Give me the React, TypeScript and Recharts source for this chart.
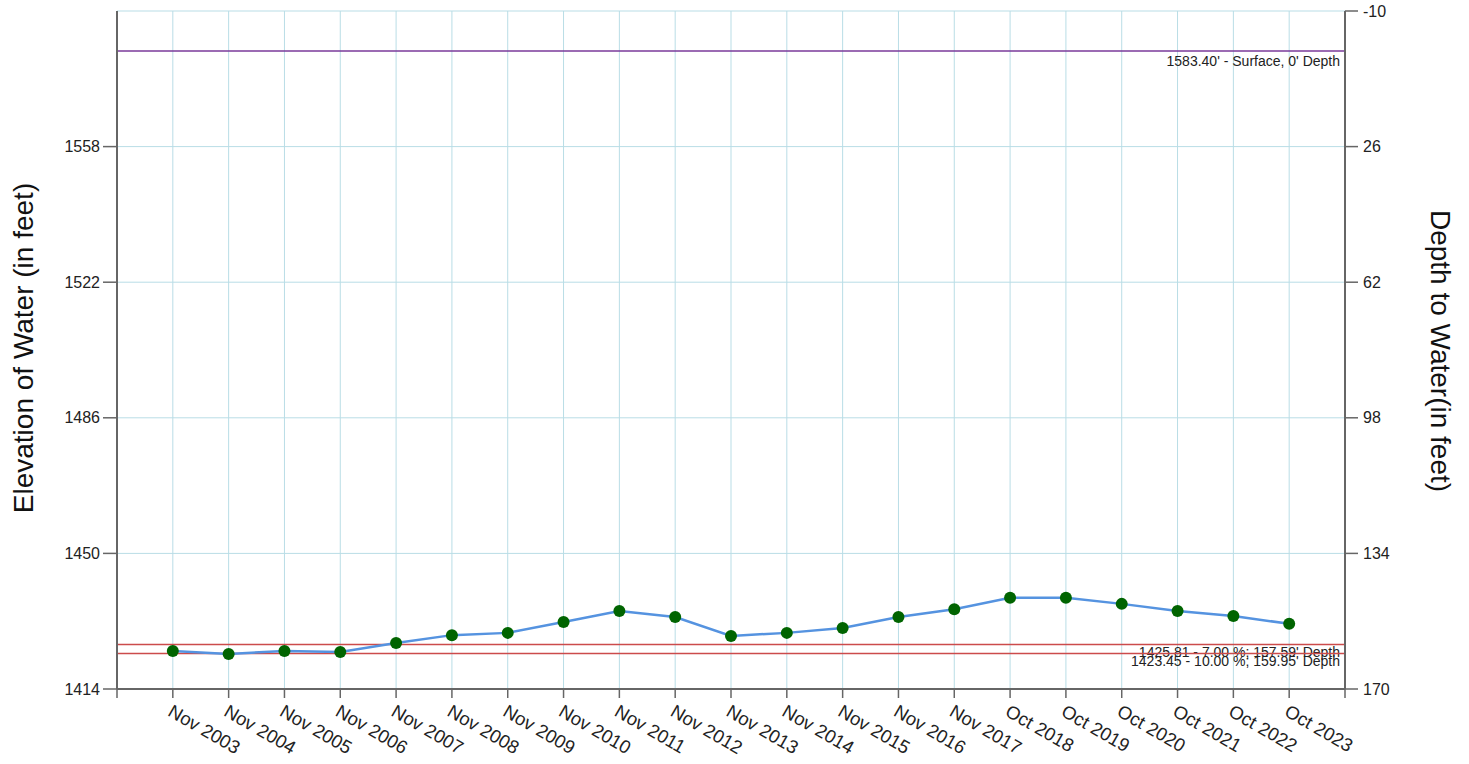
import { LineChart, Line, XAxis, YAxis, CartesianGrid, ReferenceLine } from 'recharts';

const categories = [
  'Nov 2003', 'Nov 2004', 'Nov 2005', 'Nov 2006', 'Nov 2007', 'Nov 2008', 'Nov 2009',
  'Nov 2010', 'Nov 2011', 'Nov 2012', 'Nov 2013', 'Nov 2014', 'Nov 2015', 'Nov 2016',
  'Nov 2017', 'Oct 2018', 'Oct 2019', 'Oct 2020', 'Oct 2021', 'Oct 2022', 'Oct 2023',
];

const elevation = [
  1424.1, 1423.3, 1424.1, 1423.8, 1426.2, 1428.3, 1428.9,
  1431.8, 1434.7, 1433.1, 1428.1, 1428.9, 1430.2, 1433.1,
  1435.2, 1438.2, 1438.2, 1436.6, 1434.7, 1433.4, 1431.3,
];

const elevationTicks = [1414, 1450, 1486, 1522, 1558];
const depthTicks = [-10, 26, 62, 98, 134, 170];

const surfaceLevel = 1583.4;
const surfaceLabel = "1583.40' - Surface, 0' Depth";
const warnLevel = 1425.81;
const warnLabel = "1425.81 - 7.00 %; 157.59' Depth";
const alarmLevel = 1423.45;
const alarmLabel = "1423.45 - 10.00 %; 159.95' Depth";

const FONT = 'Arial, "Liberation Sans", sans-serif';
const AXIS = '#666666';
const GRID = '#b9dde6';

// x positions: 1..21, with an empty slot at each end
// depth is only used to hook up the right-hand axis (hidden line)
const chartData = categories.map((name, i) => ({
  x: i + 1,
  name,
  elevation: elevation[i],
  depth: +(surfaceLevel - elevation[i]).toFixed(2),
}));
const xTicks = Array.from({ length: categories.length + 2 }, (_, i) => i);

const XTick = ({ x, y, payload }: any) => {
  const label = categories[payload.value - 1];
  if (!label) return null;
  const tx = x - 6;
  const ty = y + 15;
  return (
    <text
      x={tx}
      y={ty}
      transform={`rotate(30, ${tx}, ${ty})`}
      textAnchor="start"
      fontSize={18.5}
      fontFamily={FONT}
      fill="#222"
    >
      {label}
    </text>
  );
};

const refLabel = (text: string, dy: number) => ({ viewBox }: any) => (
  <text
    x={viewBox.x + viewBox.width - 5}
    y={viewBox.y + dy}
    textAnchor="end"
    fontSize={14}
    fontFamily={FONT}
    fill="#222"
  >
    {text}
  </text>
);

export default function App() {
  return (
    <div style={{ position: 'absolute', left: 0, top: 0, background: '#fff' }}>
      <LineChart
        width={1469}
        height={764}
        data={chartData}
        margin={{ top: 11, right: 0, bottom: 0, left: 0 }}
      >
        <CartesianGrid stroke={GRID} strokeWidth={1} yAxisId="left" />
        <XAxis
          dataKey="x"
          type="number"
          domain={[0, categories.length + 1]}
          ticks={xTicks}
          interval={0}
          height={75}
          tick={<XTick />}
          tickSize={9}
          tickMargin={2}
          axisLine={{ stroke: AXIS, strokeWidth: 2 }}
          tickLine={{ stroke: AXIS, strokeWidth: 1.5 }}
        />
        <YAxis
          yAxisId="left"
          type="number"
          domain={[1414, 1594]}
          ticks={elevationTicks}
          interval={0}
          allowDataOverflow
          width={117}
          tickSize={14}
          tickMargin={3}
          tick={{ fontSize: 16, fontFamily: FONT, fill: '#222' }}
          axisLine={{ stroke: AXIS, strokeWidth: 2 }}
          tickLine={{ stroke: AXIS, strokeWidth: 1.5 }}
          label={{
            content: () => (
              <text
                x={23}
                y={348}
                transform="rotate(-90, 23, 348)"
                textAnchor="middle"
                dominantBaseline="central"
                fontSize={28}
                fontFamily={FONT}
                fill="#111"
              >
                Elevation of Water (in feet)
              </text>
            ),
          }}
        />
        <YAxis
          yAxisId="right"
          orientation="right"
          type="number"
          domain={[-10, 170]}
          allowDataOverflow
          reversed
          ticks={depthTicks}
          interval={0}
          width={124}
          tickSize={13}
          tickMargin={5}
          tick={{ fontSize: 16, fontFamily: FONT, fill: '#222' }}
          axisLine={{ stroke: AXIS, strokeWidth: 2 }}
          tickLine={{ stroke: AXIS, strokeWidth: 1.5 }}
          label={{
            content: () => (
              <text
                x={1440}
                y={351}
                transform="rotate(90, 1440, 351)"
                textAnchor="middle"
                dominantBaseline="central"
                fontSize={28}
                fontFamily={FONT}
                fill="#111"
              >
                Depth to Water(in feet)
              </text>
            ),
          }}
        />
        <ReferenceLine
          yAxisId="left"
          y={surfaceLevel}
          stroke="#7a3a9a"
          strokeWidth={1.5}
          label={{ content: refLabel(surfaceLabel, 15) }}
        />
        <ReferenceLine
          yAxisId="left"
          y={warnLevel}
          stroke="#cc4b4b"
          strokeWidth={1.5}
          label={{ content: refLabel(warnLabel, 12) }}
        />
        <ReferenceLine
          yAxisId="left"
          y={alarmLevel}
          stroke="#cc4b4b"
          strokeWidth={1.5}
          label={{ content: refLabel(alarmLabel, 13) }}
        />
        <Line
          yAxisId="right"
          type="linear"
          dataKey="depth"
          stroke="none"
          strokeWidth={0}
          dot={false}
          activeDot={false}
          legendType="none"
          isAnimationActive={false}
        />
        <Line
          yAxisId="left"
          type="linear"
          dataKey="elevation"
          stroke="#5593e0"
          strokeWidth={2.5}
          dot={{ r: 6, fill: '#006400', stroke: 'none' }}
          activeDot={false}
          isAnimationActive={false}
        />
      </LineChart>
    </div>
  );
}
